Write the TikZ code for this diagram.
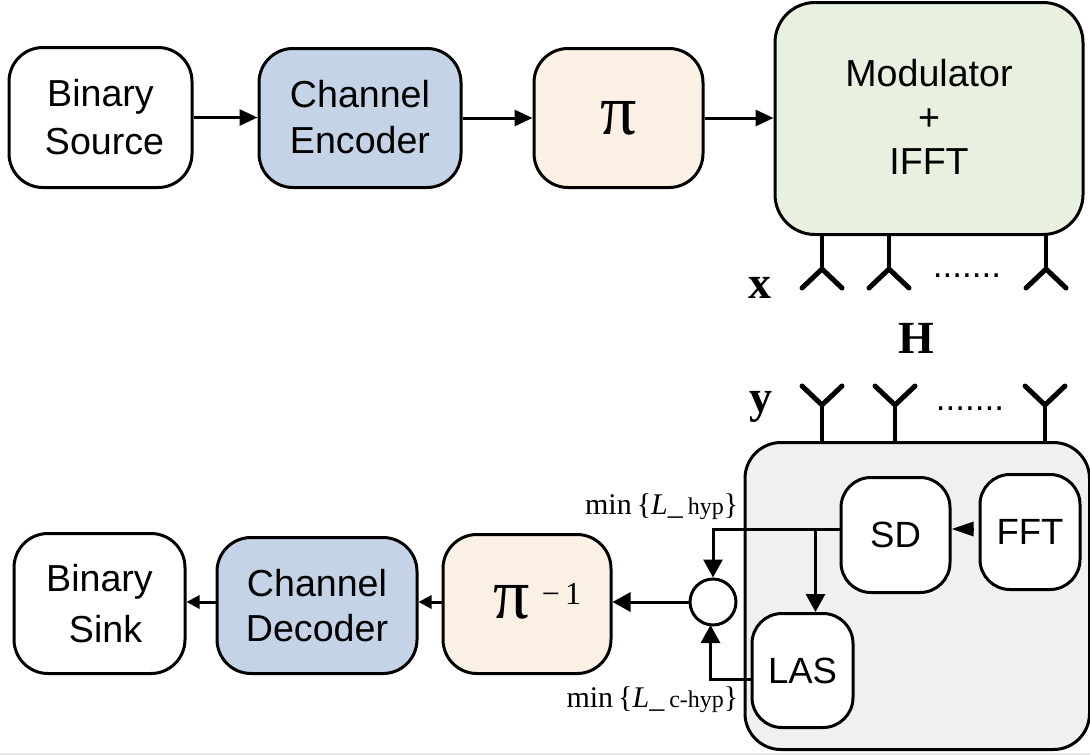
\documentclass[tikz,border=0pt]{standalone}
\usepackage{fontspec}
\setmainfont{Liberation Sans}
\newfontfamily\serifx{Liberation Serif}
\usetikzlibrary{arrows.meta}
\definecolor{blueb}{HTML}{C5D3E6}
\definecolor{peach}{HTML}{FBF0E4}
\definecolor{greenb}{HTML}{E8F0DF}
\definecolor{grayb}{HTML}{F0F0F0}
\newcommand{\fs}[1]{\fontsize{#1pt}{\dimexpr #1pt*13/10\relax}\selectfont}
\newcommand{\up}[2]{\raisebox{#1pt}{#2}}
\tikzset{
  x=1pt,y=-1pt,
  blk/.style={draw=black,line width=3pt,rounded corners=34pt,inner sep=0pt,align=center,font=\fs{37.6},fill=white},
  smallblk/.style={blk,rounded corners=30pt,font=\fs{36.5}},
  conn/.style={line width=3pt,-{Triangle[length=18pt,width=16pt]}},
  connb/.style={line width=3pt,-{Triangle[length=18pt,width=19pt]}},
  conns/.style={line width=3pt,-{Triangle[length=13pt,width=13pt]}},
  ant/.style={line width=5pt,line cap=round,line join=miter},
  stem/.style={line width=4.5pt},
  lab/.style={font=\serifx\bfseries\fs{46},inner sep=0pt},
  eq/.style={font=\serifx\fs{30},inner sep=0pt,anchor=east},
  dotsrow/.style={inner sep=0pt,font=\fs{35},anchor=base},
}
\newcommand{\bx}[7][]{\node[#2,minimum width=#5pt,minimum height=#6pt,anchor=north west,#1] (#3) at #4 {#7};}
\begin{document}
\begin{tikzpicture}
\useasboundingbox (0,0) rectangle (1090,755);
\fill[black!8] (0,752.5) rectangle (1090,755);
\begin{scope}[shift={(-1.5,-1)}]
% transmitter
\bx[]{blk}{src}{(9,47)}{183}{140}{\up{1.5}{Binary}\\[-1pt]\up{1}{\hspace{8pt}Source}}
\bx[fill=blueb]{blk}{enc}{(259,48)}{202}{139}{\up{1.5}{Channel}\\[-3pt]\up{1.5}{Encoder}}
\bx[fill=peach,font=\serifx\fs{72}]{blk}{pi}{(534,48)}{169}{139}{π}
\bx[fill=greenb,rounded corners=40pt]{blk}{mod}{(775,2)}{308}{232}{\up{3.5}{Modulator}\\[-5pt]\up{3.5}{+}\\[-5pt]\up{3.5}{IFFT}}
\draw[conn] (src.east) -- (src.east -| enc.west);
\draw[conn] (enc.east) -- (pi.west);
\draw[conn] (pi.east) -- (pi.east -| mod.west);
% receiver box
\bx[fill=grayb,rounded corners=36pt]{blk}{rx}{(745,442)}{344.5}{307}{}
\bx[]{smallblk}{sd}{(841,477)}{109}{115}{SD}
\bx[]{smallblk}{fft}{(980,474)}{100}{115}{FFT}
\bx[]{smallblk}{las}{(752,613)}{101}{114}{LAS}
\node[draw=black,line width=3pt,circle,minimum size=46pt,inner sep=0pt,fill=white] (sum) at (714.5,603) {};
\bx[fill=peach]{blk}{ipi}{(443,534)}{168}{139}{}
\node[inner sep=0pt,font=\serifx\fs{72}] (ipit) at (513,603) {π};
\node[inner sep=0pt,font=\serifx\fs{32}] (ipie) at (563,595) {−\,1};
\bx[fill=blueb]{blk}{dec}{(217,537)}{200}{136}{\up{0.5}{Channel}\\[-4pt]Decoder}
\bx[]{blk}{snk}{(14,533)}{171}{140}{Binary\\[2pt]\hspace{12pt}Sink}
\coordinate (br) at (817,530);
\draw[connb] (sd.west |- br) -- (714.5,530) -- (sum.north);
\draw[connb] (br) -- (las.north -| br);
\coordinate (lasl) at (752,680);
\coordinate (lasu) at (712,626);
\draw[connb] (lasl) -- (712,680) -- (lasu);
\draw[connb] (sum.west) -- (ipi.east |- sum.west);
\coordinate (fftl) at (975,530);
\draw[line width=3pt,-{Triangle[length=22pt,width=14pt]}] (fftl) -- (sd.east |- fftl);
\coordinate (lv) at (0,603);
\draw[conns] (ipi.west |- lv) -- (dec.east |- lv);
\draw[conns] (dec.west |- lv) -- (snk.east |- lv);
% antennas
\foreach \n/\xx in {a/823.5,b/890.5,c/1047.5}{
  \coordinate (t\n) at (\xx,234);
  \coordinate (f\n) at (\xx,270);
  \draw[stem] (t\n) -- (f\n);
  \draw[ant] (\xx-20,289) -- (f\n) -- (\xx+20,289);
}
\foreach \n/\xx in {a/823.5,b/896.5,c/1046.5}{
  \coordinate (u\n) at (\xx,442);
  \coordinate (g\n) at (\xx,406);
  \draw[stem] (u\n) -- (g\n);
  \draw[ant] (\xx-20,387) -- (g\n) -- (\xx+20,387);
}
\node[dotsrow] (d1) at (968.5,278) {.......};
\node[dotsrow] (d2) at (971.5,411) {.......};
\node[lab] (x) at (761.5,289) {x};
\node[lab] (H) at (917.5,339) {H};
\node[lab] (y) at (762.5,408) {y};
\node[eq] (e1) at (740,508) {min\,\{\textit{L}\_\,{\fs{24}hyp}\}};
\node[eq] (e2) at (740,701) {min\,\{\textit{L}\_\,{\fs{24}c-hyp}\}};
\end{scope}
\end{tikzpicture}
\end{document}
